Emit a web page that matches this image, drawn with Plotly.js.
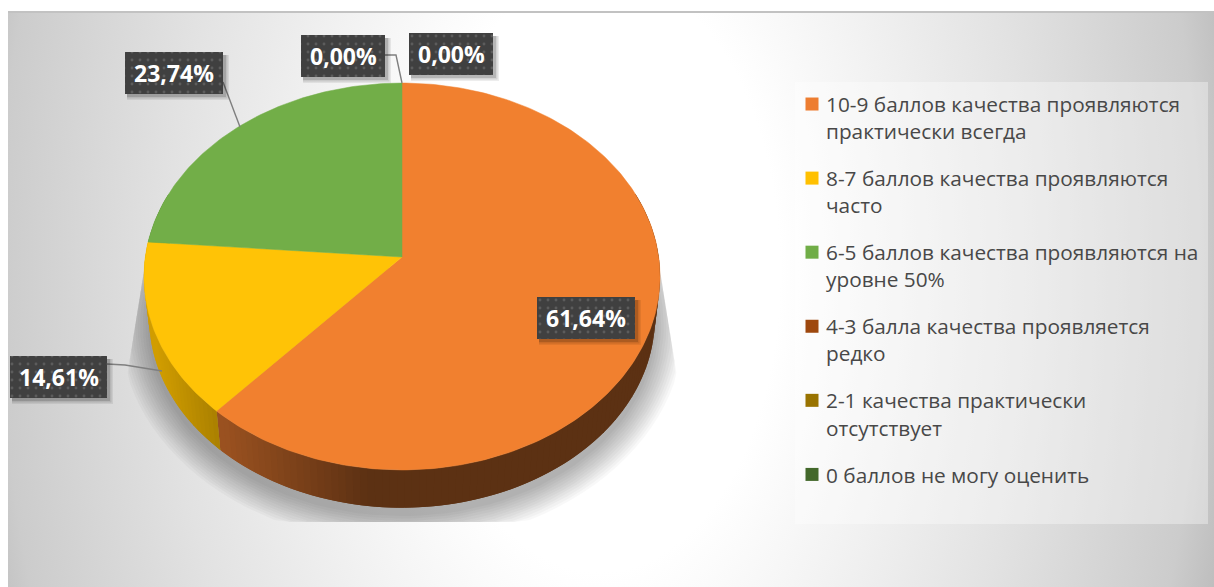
<!DOCTYPE html>
<html><head><meta charset="utf-8">
<script src="https://cdn.plot.ly/plotly-3.0.1.min.js"></script>
<style>
html,body{margin:0;padding:0;background:#fff;overflow:hidden}
#bg{position:absolute;left:8px;top:11px;width:1206px;height:576px;box-sizing:border-box;border-top:2px solid #c2c2c2;
background:radial-gradient(ellipse 600px 1000px at 592px 259px,#fff 0%,#fff 30%,#e2e2e2 72%,#cccccc 100%,#b8b8b8 110%);}
#chart{position:absolute;left:0;top:0;width:1214px;height:587px}
.legendsymbols{transform:translateX(6px)}
.legendtoggle{display:none}
</style></head><body><div id="bg"></div><div id="chart"></div>
<script>
// ---- data ----
const categories = [
 "10-9 баллов качества проявляются<br>практически всегда",
 "8-7 баллов качества проявляются<br>часто",
 "6-5 баллов качества проявляются на<br>уровне 50%",
 "4-3 балла качества проявляется<br>редко",
 "2-1 качества практически<br>отсутствует",
 "0 баллов не могу оценить"];
const values = [61.64, 14.61, 23.74, 0, 0, 0];
const dataLabels = ["61,64%", "14,61%", "23,74%", "0,00%", "0,00%"];
const colors = ["#ED7D31", "#FFC000", "#70AD47", "#9E480E", "#997300", "#43682B"];
const topColors = ["#F1802F", "#FFC306", "#72AE48", "#9E480E", "#997300", "#43682B"];

// ---- geometry of the tilted disc (pixel scale of the axes) ----
const CX = 402, CY = 257, RX = 256.7, RY = 191.5, PERSP = 0.1008;
const BOTTOM_CY = 299, BOTTOM_S = 0.98;
const rad = d => d * Math.PI / 180;
function pt(a, s, cy) {
  const d = 1 + PERSP * Math.cos(rad(a));
  return [CX + s * RX * Math.sin(rad(a)) / d, cy - s * RY * Math.cos(rad(a)) / d];
}
function shade(hex, f) {
  const n = parseInt(hex.slice(1), 16);
  return `rgb(${Math.round((n >> 16) * f)},${Math.round(((n >> 8) & 255) * f)},${Math.round((n & 255) * f)})`;
}
function sideFactor(x) {
  if (x >= 360) return 0.39;
  if (x >= 218) return 0.39 + (360 - x) / 142 * 0.26;
  return Math.min(0.82, 0.65 + (218 - x) / 58 * 0.15);
}
const traces = [];
const base = {mode: "lines", fill: "toself", hoverinfo: "skip", showlegend: false};

// soft shadow under the disc, clipped to its slanted rectangle
for (let i = 0; i < 12; i++) {
  const grow = 30 - i * 2.6, xs = [], ys = [];
  for (let a = 0; a <= 360; a += 3) {
    const p = pt(a, 1, 306);
    const dx = p[0] - CX, dy = p[1] - 306, len = Math.hypot(dx, dy);
    const y = Math.min(522, Math.max(268, 306 + dy * (1 + grow / len) * BOTTOM_S));
    const slant = (y - 270) * 0.16;
    const x = Math.min(660 + slant, Math.max(144 - slant, CX + dx * (1 + grow / len) * BOTTOM_S));
    xs.push(x); ys.push(y);
  }
  traces.push({...base, x: xs, y: ys, fillcolor: "rgba(0,0,0,0.026)", line: {width: 0}});
}

// slices
const total = values.reduce((s, v) => s + v, 0);
let start = 0; const arcs = values.map(v => { const a = [start, start + v / total * 360]; start = a[1]; return a; });

// rim: short strips, each overlapping the previous one so no seams show
const STEP = 1.5;
arcs.forEach((arc, i) => {
  if (values[i] <= 0) return;
  const lo = Math.max(arc[0], 70), hi = Math.min(arc[1], 290);
  for (let a = lo; a < hi; a += STEP) {
    const b = Math.min(a + STEP, hi), from = Math.max(a - STEP, lo);
    const sx = [], sy = [];
    [from, a, b].forEach(t => { const q = pt(t, 1, CY); sx.push(q[0]); sy.push(q[1]); });
    [b, a, from].forEach(t => { const q = pt(t, BOTTOM_S, BOTTOM_CY); sx.push(q[0]); sy.push(q[1]); });
    const c = shade(colors[i], sideFactor(pt((a + b) / 2, 1, CY)[0]));
    traces.push({...base, x: sx, y: sy, fillcolor: c, line: {width: 0}});
  }
});

// top face
arcs.forEach((arc, i) => {
  if (values[i] <= 0) return;
  const xs = [CX], ys = [CY];
  for (let a = arc[0]; a < arc[1]; a += 1) { const p = pt(a, 1, CY); xs.push(p[0]); ys.push(p[1]); }
  const e = pt(arc[1], 1, CY); xs.push(e[0], CX); ys.push(e[1], CY);
  traces.push({...base, x: xs, y: ys, fillcolor: topColors[i], line: {color: topColors[i], width: 0.5}});
});

// leader lines
const leaderX = [[223, 240], [385, 396, 402], [107, 125, 162]];
const leaderY = [[82, 127], [55, 55, 83], [364, 365, 371]];
leaderX.forEach((x, i) => traces.push({x, y: leaderY[i], mode: "lines", hoverinfo: "skip", showlegend: false,
  line: {color: "#7f7f7f", width: 1.4}}));

// label boxes [left, top]
const boxes = [[537, 297], [10, 356], [125, 52], [301, 35], [409, 33]];
const boxW = [98, 97, 98, 84, 84], boxH = 42;
const annotations = [];
boxes.forEach((b, i) => {
  const x0 = b[0], x1 = b[0] + boxW[i], y0 = b[1], y1 = b[1] + boxH;
  [[6, .07], [4.5, .1], [3, .14]].forEach(s => traces.push({...base,
    x: [x0 + 2, x1 + s[0], x1 + s[0], x0 + 2, x0 + 2], y: [y0 + 3, y0 + 3, y1 + s[0], y1 + s[0], y0 + 3],
    fillcolor: `rgba(0,0,0,${s[1]})`, line: {width: 0}}));
  traces.push({...base, x: [x0, x1, x1, x0, x0], y: [y0, y0, y1, y1, y0], fillcolor: "#404040",
    fillpattern: {shape: ".", size: 8, solidity: 0.1, fgcolor: "#5c5c5c", bgcolor: "#404040"}, line: {width: 0}});
  annotations.push({x: (x0 + x1) / 2, y: (y0 + y1) / 2, xref: "x", yref: "y", text: dataLabels[i], showarrow: false,
    xanchor: "center", yanchor: "middle", font: {family: "Open Sans", size: 23, color: "#fff", weight: 700}});
});

// legend entries
categories.forEach((name, i) => traces.push({x: [null], y: [null], mode: "markers", name, legendgroup: "g" + i,
  marker: {symbol: "square", size: 13, color: colors[i]}, hoverinfo: "skip"}));

const layout = {
  width: 1214, height: 587, margin: {l: 0, r: 0, t: 0, b: 0}, autosize: false,
  paper_bgcolor: "rgba(0,0,0,0)", plot_bgcolor: "rgba(0,0,0,0)",
  xaxis: {range: [0, 1214], visible: false, fixedrange: true},
  yaxis: {range: [587, 0], visible: false, fixedrange: true},
  showlegend: true,
  legend: {x: 786 / 1214, y: 1 - 84 / 587, xanchor: "left", yanchor: "top", bgcolor: "rgba(0,0,0,0)",
    tracegroupgap: 17, valign: "top", itemclick: false, itemdoubleclick: false,
    font: {family: "Open Sans", size: 20.8, color: "#484848"}},
  shapes: [{type: "rect", xref: "x", yref: "y", x0: 795, x1: 1208, y0: 82, y1: 524,
    fillcolor: "rgba(255,255,255,0.35)", line: {width: 0}, layer: "below"}],
  annotations
};
Plotly.newPlot("chart", traces, layout, {displayModeBar: false});
</script></body></html>
